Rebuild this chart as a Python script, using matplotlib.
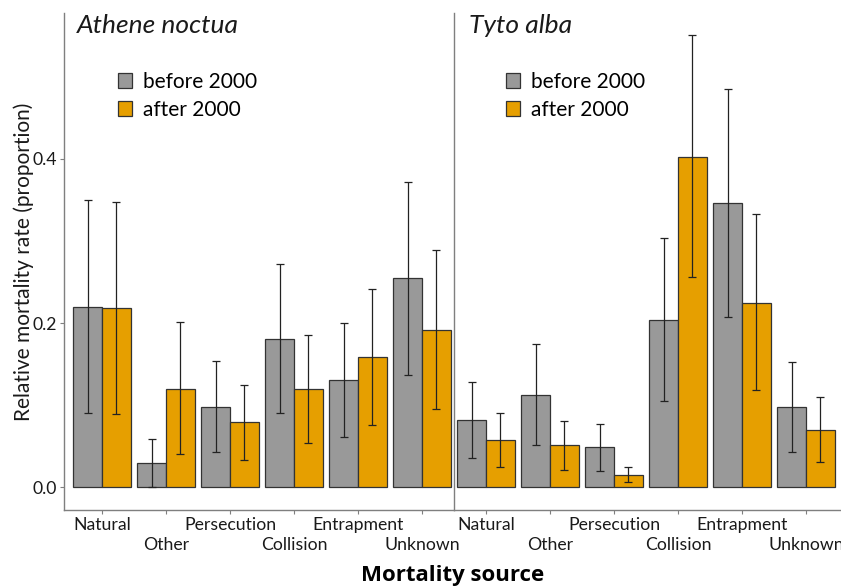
import matplotlib
matplotlib.use("Agg")
import matplotlib.pyplot as plt
from matplotlib.patches import Patch
import numpy as np

plt.rcParams["font.family"] = ["Lato", "DejaVu Sans"]

sources = ["Natural", "Other", "Persecution", "Collision", "Entrapment", "Unknown"]
periods = ["before 2000", "after 2000"]
colors = ["#999999", "#E69F00"]

# Athene noctua
an_before = [0.220, 0.029, 0.098, 0.181, 0.130, 0.255]
an_before_lo = [0.090, 0.000, 0.043, 0.090, 0.061, 0.137]
an_before_hi = [0.350, 0.059, 0.154, 0.272, 0.200, 0.372]
an_after = [0.218, 0.120, 0.079, 0.119, 0.158, 0.192]
an_after_lo = [0.089, 0.040, 0.033, 0.054, 0.076, 0.095]
an_after_hi = [0.347, 0.201, 0.125, 0.185, 0.241, 0.289]

# Tyto alba
ta_before = [0.082, 0.112, 0.049, 0.204, 0.346, 0.097]
ta_before_lo = [0.036, 0.051, 0.020, 0.105, 0.207, 0.043]
ta_before_hi = [0.128, 0.174, 0.077, 0.304, 0.485, 0.152]
ta_after = [0.057, 0.051, 0.015, 0.403, 0.225, 0.070]
ta_after_lo = [0.024, 0.021, 0.006, 0.256, 0.118, 0.030]
ta_after_hi = [0.090, 0.081, 0.024, 0.551, 0.333, 0.110]

panels = [
    ("Athene noctua", [(an_before, an_before_lo, an_before_hi),
                       (an_after, an_after_lo, an_after_hi)]),
    ("Tyto alba", [(ta_before, ta_before_lo, ta_before_hi),
                   (ta_after, ta_after_lo, ta_after_hi)]),
]

fig = plt.figure(figsize=(8.41, 5.86), dpi=100)
W, H = 841, 586
ax1 = fig.add_axes([64 / W, 1 - 510 / H, 390 / W, 497 / H])
ax2 = fig.add_axes([454 / W, 1 - 510 / H, 387 / W, 497 / H])

spine_col = "#7f7f7f"
text_col = "#1a1a1a"
x = np.arange(len(sources))
bw = 0.45

for ax, (title, series) in zip([ax1, ax2], panels):
    for j, (vals, lo, hi) in enumerate(series):
        vals = np.array(vals)
        pos = x + (j - 0.5) * bw
        ax.bar(pos, vals, width=bw, color=colors[j], edgecolor="#333333",
               linewidth=0.9, zorder=2)
        err = [vals - np.array(lo), np.array(hi) - vals]
        ax.errorbar(pos, vals, yerr=err, fmt="none", ecolor="#222222",
                    elinewidth=0.9, capsize=3, capthick=0.9, zorder=3)
    ax.set_ylim(-0.028, 0.578)
    # staggered category labels: even ones on the first row, odd ones below
    ax.set_xticks(x[0::2])
    ax.set_xticklabels(sources[0::2], fontsize=12.7, color=text_col)
    ax.set_xticks(x[1::2], minor=True)
    ax.set_xticklabels(sources[1::2], minor=True, fontsize=12.7, color=text_col)
    ax.tick_params(axis="x", which="major", length=3, color=spine_col, pad=2)
    ax.tick_params(axis="x", which="minor", length=3, width=0.8,
                   color=spine_col, pad=16.4)
    ax.spines["top"].set_visible(False)
    ax.spines["right"].set_visible(False)
    for s in ["left", "bottom"]:
        ax.spines[s].set_color(spine_col)
        ax.spines[s].set_linewidth(1.0)
    ax.text(0.033 if ax is ax1 else 0.039, 0.96, title, transform=ax.transAxes,
            fontsize=19, style="italic", color=text_col, va="baseline")
    handles = [Patch(facecolor=colors[k], edgecolor="#333333", linewidth=0.9,
                     label=periods[k]) for k in range(2)]
    ax.legend(handles=handles, loc="upper left",
              bbox_to_anchor=(0.138 if ax is ax1 else 0.134, 0.882),
              frameon=False, fontsize=15, handlelength=0.7, handleheight=0.7,
              handletextpad=0.5, labelspacing=0.4, borderpad=0,
              borderaxespad=0)

ax1.set_xlim(-0.594, 5.5)
ax2.set_xlim(-0.5, 5.547)
ax1.set_yticks([0.0, 0.2, 0.4])
ax1.set_yticklabels(["0.0", "0.2", "0.4"], fontsize=12.7, color=text_col)
ax1.tick_params(axis="y", length=3, color=spine_col, pad=2)
ax1.set_ylabel("Relative mortality rate (proportion)", fontsize=15,
               color=text_col, labelpad=-1)
ax2.set_yticks([])

fig.text(453 / W, 1 - 581 / H, "Mortality source", ha="center",
         va="baseline", fontsize=16, fontweight="bold", color="black",
         family=["Open Sans", "DejaVu Sans"])

fig.savefig("out.png", dpi=100)
